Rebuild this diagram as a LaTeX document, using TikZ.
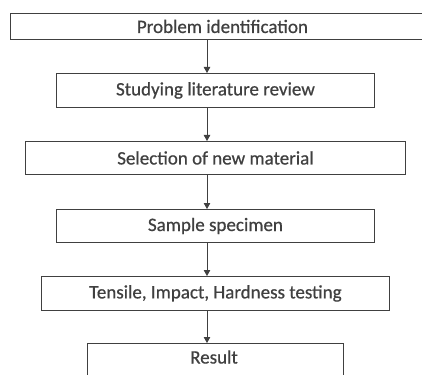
\documentclass[tikz,border=0pt]{standalone}
\usepackage{fontspec}
\setmainfont[FakeBold=0.6]{Carlito}
\usetikzlibrary{arrows.meta}
\definecolor{ink}{HTML}{404040}
\begin{document}
\begin{tikzpicture}[x=1pt,y=-1pt,
  stepbox/.style={draw=ink,line width=0.9pt,text=ink,inner sep=0pt,anchor=north west,
    font=\fontsize{19}{21}\selectfont},
  arr/.style={draw=ink,line width=0.9pt,-{Triangle[length=6pt,width=6.5pt]}}]
\useasboundingbox (0,0) rectangle (422,374);
\clip (0,0) rectangle (422,374);
\fill[white] (0,0) rectangle (422,374);
\node[stepbox,minimum width=424pt,minimum height=26pt] (b1) at (10,13) {Problem identification};
\node[stepbox,minimum width=318pt,minimum height=34pt] (b2) at (56,73) {Studying literature review};
\node[stepbox,minimum width=380pt,minimum height=33pt] (b3) at (25,141) {Selection of new material};
\node[stepbox,minimum width=318pt,minimum height=33pt] (b4) at (56,209) {Sample specimen};
\node[stepbox,minimum width=348pt,minimum height=34pt] (b5) at (41,276) {Tensile, Impact, Hardness testing};
\node[stepbox,minimum width=256pt,minimum height=34pt] (b6) at (87,343) {};
\node[text=ink,font=\fontsize{19}{21}\selectfont] (t6) at (214,357) {Result};
\coordinate (ax) at (207,0);
\draw[arr] (b1.south -| ax) -- (b2.north -| ax);
\draw[arr] (b2.south -| ax) -- (b3.north -| ax);
\draw[arr] (b3.south -| ax) -- (b4.north -| ax);
\draw[arr] (b4.south -| ax) -- (b5.north -| ax);
\draw[arr] (b5.south -| ax) -- (b6.north -| ax);
\end{tikzpicture}
\end{document}
